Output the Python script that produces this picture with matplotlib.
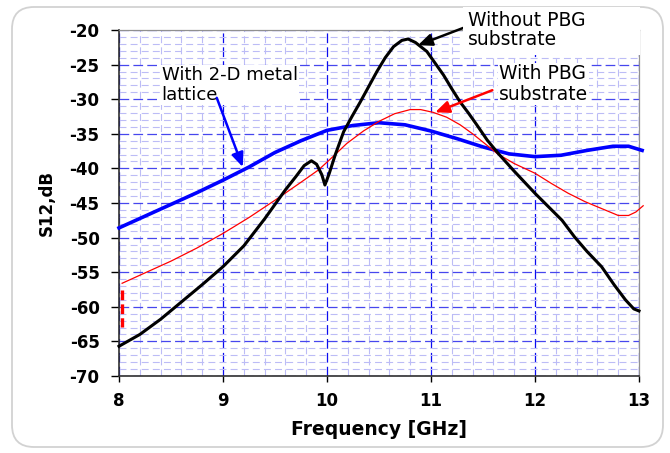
import numpy as np
import matplotlib
matplotlib.use("Agg")
import matplotlib.pyplot as plt
from matplotlib.ticker import MultipleLocator
from matplotlib.patches import FancyBboxPatch, Rectangle

plt.rcParams['font.family'] = ['DejaVu Sans']
plt.rcParams['lines.scale_dashes'] = False

# Courbe bleue : avec réseau métallique 2-D
freq_blue = [8.0, 8.25, 8.5, 8.75, 9.0, 9.25, 9.5, 9.75, 10.0, 10.25, 10.5, 10.75,
             11.0, 11.25, 11.5, 11.75, 12.0, 12.25, 12.5, 12.75, 12.9, 13.03]
s12_blue = [-48.6, -46.9, -45.2, -43.5, -41.7, -39.8, -37.7, -36.0, -34.5, -33.8, -33.4, -33.7,
            -34.6, -35.7, -36.9, -37.9, -38.3, -38.1, -37.4, -36.8, -36.8, -37.4]

# Courbe noire : sans substrat PBG
freq_black = [8.0, 8.2, 8.4, 8.6, 8.8, 9.0, 9.2, 9.4, 9.6, 9.7, 9.78, 9.85, 9.9, 9.95, 9.98,
              10.02, 10.08, 10.16, 10.24, 10.32, 10.4, 10.48, 10.56, 10.64, 10.72, 10.78,
              10.85, 10.96, 11.04, 11.12, 11.2, 11.28, 11.36, 11.44, 11.54, 11.65, 11.8,
              12.0, 12.26, 12.38, 12.5, 12.64, 12.76, 12.87, 12.95, 13.0]
s12_black = [-65.7, -64.0, -61.8, -59.3, -56.8, -54.2, -51.2, -47.3, -43.1, -41.2, -39.6, -38.9,
             -39.4, -40.9, -42.4, -40.8, -38.0, -34.7, -32.5, -30.4, -28.2, -26.0, -24.0,
             -22.4, -21.5, -21.3, -21.8, -23.1, -24.8, -26.5, -28.5, -30.4, -32.0, -33.7,
             -35.9, -37.9, -40.4, -43.6, -47.5, -49.9, -52.0, -54.2, -56.8, -59.0, -60.3, -60.6]

# Courbe rouge : avec substrat PBG
freq_red = [8.03, 8.25, 8.5, 8.75, 9.0, 9.25, 9.5, 9.75, 9.92, 10.05, 10.19, 10.35, 10.5,
            10.65, 10.8, 10.9, 11.02, 11.15, 11.28, 11.4, 11.5, 11.64, 11.8, 12.0, 12.16,
            12.32, 12.48, 12.64, 12.8, 12.9, 12.97, 13.04]
s12_red = [-56.6, -55.1, -53.4, -51.5, -49.4, -47.1, -44.6, -42.0, -40.2, -38.4, -36.4, -34.6,
           -33.2, -32.1, -31.5, -31.5, -31.9, -32.6, -33.7, -35.0, -36.2, -37.9, -39.3, -40.7,
           -42.2, -43.6, -44.8, -45.8, -46.8, -46.8, -46.3, -45.4]
# petit segment vertical au début de la courbe rouge
freq_red_drop = [8.026, 8.026]
s12_red_drop = [-57.6, -62.9]

x_ticks = [8, 9, 10, 11, 12, 13]
y_ticks = [-70, -65, -60, -55, -50, -45, -40, -35, -30, -25, -20]

fig = plt.figure(figsize=(6.7, 4.53), dpi=100)
ax = fig.add_axes([119 / 670, 77 / 453, 520 / 670, 346 / 453])

# cadre arrondi autour du graphique
frame = FancyBboxPatch((0.12, 0.06), 6.51, 4.40, boxstyle="round,pad=0,rounding_size=0.22",
                       transform=fig.dpi_scale_trans, facecolor='none',
                       edgecolor='#d2d2d2', lw=1.3, zorder=-1)
fig.add_artist(frame)

ax.plot(freq_blue, s12_blue, color='#0000ff', lw=2.6, clip_on=False, zorder=3)
ax.plot(freq_red, s12_red, color='#ff0000', lw=0.9, clip_on=False, zorder=4)
ax.plot(freq_red_drop, s12_red_drop, color='#ff0000', lw=2.4, ls=(0, (7, 3)), zorder=4)
ax.plot(freq_black, s12_black, color='black', lw=2.2, clip_on=False, zorder=5)

ax.set_xlim(8, 13)
ax.set_ylim(-70, -20)
ax.set_xticks(x_ticks)
ax.set_yticks(y_ticks)
ax.set_xticklabels([str(v) for v in x_ticks], fontweight='bold', fontsize=12)
ax.set_yticklabels([str(v) for v in y_ticks], fontweight='bold', fontsize=12)
ax.xaxis.set_minor_locator(MultipleLocator(0.2))
ax.yaxis.set_minor_locator(MultipleLocator(1))
ax.tick_params(which='minor', length=0)
ax.tick_params(axis='x', which='major', direction='out', length=4.5, width=1, pad=7)
ax.tick_params(axis='y', which='major', direction='out', length=6, width=1, pad=8)

ax.xaxis.grid(True, which='minor', color='#bcbcf6', lw=0.8, ls=(0, (5, 3)))
ax.yaxis.grid(True, which='minor', color='#bcbcf6', lw=0.8, ls=(0, (5, 3)))
ax.xaxis.grid(True, which='major', color='#0c0cf0', lw=0.9, ls=(0, (7, 3)))
ax.yaxis.grid(True, which='major', color='#4646ee', lw=0.9, ls=(0, (7, 3)))
ax.set_axisbelow(True)

for s in ['left', 'bottom']:
    ax.spines[s].set_color('#303030')
    ax.spines[s].set_linewidth(1.2)
for s in ['top', 'right']:
    ax.spines[s].set_color('#909090')
    ax.spines[s].set_linewidth(0.9)

ax.set_xlabel("Frequency [GHz]", fontweight='bold', fontsize=13.5, labelpad=7)
ax.set_ylabel("S12,dB", fontweight='bold', fontsize=12, labelpad=10)

arrow_kw = dict(arrowstyle='-|>,head_length=0.7,head_width=0.3', lw=1.8,
                shrinkA=0, shrinkB=0, mutation_scale=12)

# étiquettes (va='baseline' -> ligne de base de la dernière ligne)
ax.text(8.41, -30.1, "With 2-D metal\nlattice", fontsize=13, va='baseline', ha='left',
        linespacing=1.12, zorder=6, bbox=dict(facecolor='white', edgecolor='none', pad=1))
ax.annotate('', xy=(9.19, -39.8), xytext=(8.94, -29.8),
            arrowprops=dict(color='#0000ff', **arrow_kw), zorder=7)

ax.text(11.654, -30.1, "With PBG\nsubstrate", fontsize=13.5, va='baseline', ha='left',
        linespacing=1.1, zorder=6, bbox=dict(facecolor='white', edgecolor='none', pad=1))
ax.annotate('', xy=(11.04, -31.9), xytext=(11.59, -28.7),
            arrowprops=dict(color='#ff0000', **arrow_kw), zorder=7)

ax.annotate('', xy=(10.875, -22.2), xytext=(11.31, -19.7), annotation_clip=False,
            arrowprops=dict(color='black', **arrow_kw), zorder=7)
box = Rectangle((4.63, 3.98), 1.77, 0.48, transform=fig.dpi_scale_trans,
                facecolor='white', edgecolor='none', zorder=5)
fig.add_artist(box)
fig.text(4.68, 4.08, "Without PBG\nsubstrate", fontsize=13.5, va='baseline', ha='left',
         linespacing=1.0, transform=fig.dpi_scale_trans, zorder=6)

fig.savefig("out.png", dpi=100)
